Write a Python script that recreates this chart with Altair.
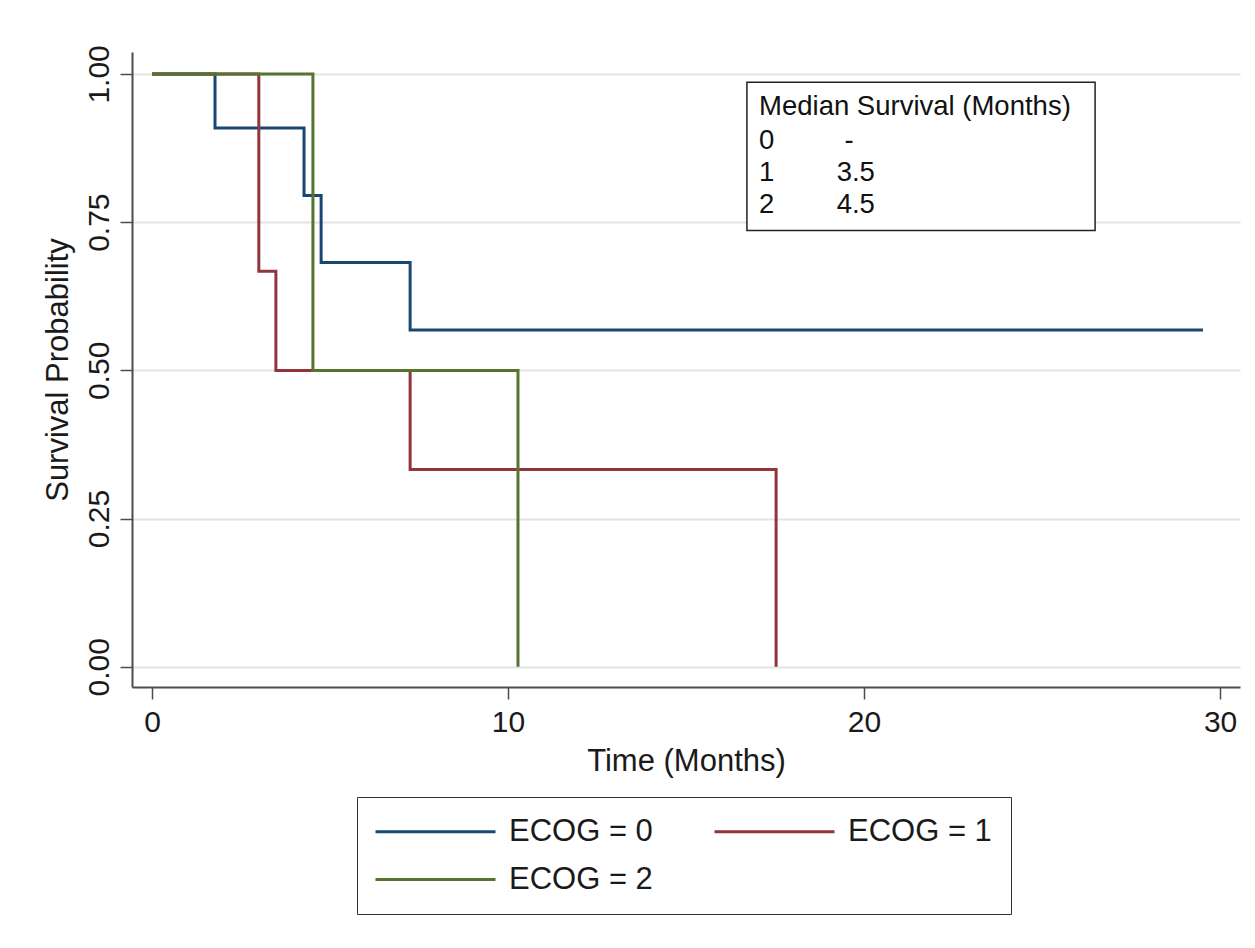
import altair as alt
import pandas as pd

# ---- data ----
groups = ["ECOG = 0", "ECOG = 1", "ECOG = 2"]
ecog0_time = [0, 1.77, 4.27, 4.75, 7.25, 29.52]
ecog0_surv = [1.0, 0.909, 0.795, 0.682, 0.568, 0.568]
ecog1_time = [0, 3.0, 3.48, 7.25, 17.53]
ecog1_surv = [1.0, 0.667, 0.5, 0.333, 0.0]
ecog2_time = [0, 4.52, 10.28]
ecog2_surv = [1.0, 0.5, 0.0]

x_ticks = [0, 10, 20, 30]
y_ticks = [0.0, 0.25, 0.5, 0.75, 1.0]

median_title = "Median Survival (Months)"
median_groups = ["0", "1", "2"]
median_values = ["-", "3.5", "4.5"]

colors = ["#1a476f", "#90353b", "#55752f"]
FONT = "Liberation Sans"
TXT = "#1a1a1a"

rows = []
for g, ts, ss in zip(groups, [ecog0_time, ecog1_time, ecog2_time],
                     [ecog0_surv, ecog1_surv, ecog2_surv]):
    for i, (t, s) in enumerate(zip(ts, ss)):
        rows.append({"group": g, "time": t, "surv": s, "order": i})
df = pd.DataFrame(rows)

x_scale = alt.Scale(domain=[-0.562, 30.56], nice=False, zero=False)
y_scale = alt.Scale(domain=[-0.034, 1.037], nice=False, zero=False)
x_axis = alt.Axis(values=x_ticks, title="Time (Months)", grid=False,
                  labelPadding=8, titlePadding=9, format="d")
y_axis = alt.Axis(values=y_ticks, title="Survival Probability", grid=True,
                  format=".2f", labelAngle=-90, labelPadding=6, titlePadding=10)

X = alt.X("time:Q", scale=x_scale, axis=x_axis)
Y = alt.Y("surv:Q", scale=y_scale, axis=y_axis)

lines = alt.Chart(df).mark_line(interpolate="step-after", strokeWidth=3).encode(
    x=X, y=Y,
    color=alt.Color("group:N", scale=alt.Scale(domain=groups, range=colors),
                    legend=alt.Legend(
                        title=None, orient="none", legendX=225, legendY=745,
                        direction="horizontal", columns=2,
                        symbolType="M-1.6,0H10.4", symbolSize=400,
                        symbolStrokeWidth=3, labelFont=FONT, labelFontSize=31,
                        labelColor=TXT, labelOffset=102, columnPadding=55,
                        rowPadding=16, padding=19, strokeColor="#333333",
                        fillColor="white")),
    order="order:Q",
)

# annotation box (positions in data units, like Stata's text())
box_df = pd.DataFrame([{"time": 16.71, "time2": 26.49, "surv": 0.986, "surv2": 0.736}])
box = alt.Chart(box_df).mark_rect(fill="white", stroke="#222222", strokeWidth=1.5).encode(
    x=X, x2="time2:Q", y=Y, y2="surv2:Q")

row_y = [0.887, 0.833, 0.779]
text_rows = [{"label": median_title, "time": 17.05, "surv": 0.945}]
for lab, yy in zip(median_groups, row_y):
    text_rows.append({"label": lab, "time": 17.05, "surv": yy})
for val, yy in zip(median_values, row_y):
    text_rows.append({"label": val, "time": 19.23 if val != "-" else 19.45, "surv": yy})
txt_df = pd.DataFrame(text_rows)
texts = alt.Chart(txt_df).mark_text(align="left", baseline="middle", font=FONT,
                                    fontSize=27.5, color="#111111").encode(
    x=X, y=Y, text="label:N")

chart = alt.layer(lines, box, texts).properties(
    width=1108, height=635,
    autosize=alt.AutoSizeParams(type="none"),
    padding={"left": 124, "top": 44, "right": 5, "bottom": 253},
    background="white",
).configure_view(stroke=None).configure_axis(
    domainColor="#4d4d4d", domainWidth=2, tickColor="#4d4d4d", tickWidth=1.5,
    tickSize=12, labelFont=FONT, labelFontSize=30, labelColor=TXT,
    titleFont=FONT, titleFontSize=31, titleFontWeight="normal", titleColor=TXT,
    gridColor="#e3e3e3", gridWidth=2,
)

chart.save("out.html", embed_options={"renderer": "svg", "actions": False})
